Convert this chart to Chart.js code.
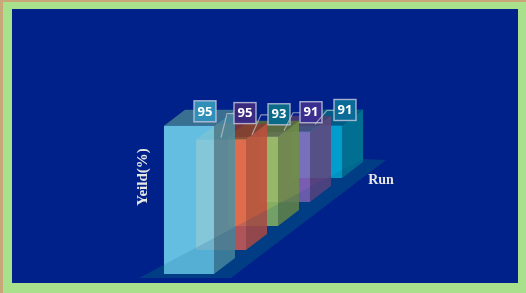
<!DOCTYPE html>
<html>
<head>
<meta charset="utf-8">
<style>
  html, body { margin: 0; padding: 0; background: #a8e08c; overflow: hidden; }
  canvas { display: block; }
</style>
<script src="https://cdn.jsdelivr.net/npm/chart.js@4"></script>
</head>
<body>
<canvas id="yieldChart" width="526" height="293"></canvas>
<script>
// Values
const runs = ["1", "2", "3", "4", "5"];
const yields = [95, 95, 93, 91, 91];

// Bar colours, front to back
const barColors = ["#76daf1", "#f0604a", "#9cc85c", "#8e68b8", "#00b4d8"];
const sideShade = [0.66, 0.8, 0.72, 0.68, 0.68];
const labelFills = ["#2f8fb8", "#3a2a80", "#0a6a88", "#3a2f90", "#0a6a98"];

// Fake 3D set-up: how far each run sits back, and how much it shrinks there
const depthX = 21, depthY = 16, stepBack = 24;
const shrink = [1, 0.745, 0.615, 0.495, 0.37];
// value box position relative to the bar's front top, leader start relative to the box
const labelOffset = [[5, -25], [13, -37], [15, -33], [15, -30], [17, -26]];
const leaderFrom = [null, [-13, 35], [-16, 31], [-16, 29], [-19, 25]];

function shade(hex, f, alpha) {
  const n = parseInt(hex.slice(1), 16);
  const c = [n >> 16, (n >> 8) & 255, n & 255].map(v => Math.round(v * f));
  return "rgba(" + c.join(",") + "," + alpha + ")";
}

function poly(ctx, pts, fill) {
  ctx.beginPath();
  pts.forEach((p, i) => i ? ctx.lineTo(p[0], p[1]) : ctx.moveTo(p[0], p[1]));
  ctx.closePath();
  ctx.fillStyle = fill;
  ctx.fill();
}

function floorPts(chart) {
  const a = chart.scales.x.left, base = chart.scales.y.bottom;
  return [[a - 34, base + 4], [a + 58, base + 4], [a + 213, base - 114], [a + 190, base - 115]];
}

const scene3d = {
  id: "scene3d",
  beforeDraw(chart) {
    const ctx = chart.ctx;
    ctx.save();
    ctx.fillStyle = "#a8e08c";
    ctx.fillRect(0, 0, 526, 293);
    ctx.fillStyle = "#c8a878";
    ctx.fillRect(0, 0, 526, 2);
    ctx.fillRect(0, 0, 3, 293);
    ctx.fillStyle = "#00208a";
    ctx.fillRect(12, 9, 506, 274);
    poly(ctx, floorPts(chart), "#003f86");
    ctx.restore();
  },
  afterDatasetsDraw(chart) {
    const ctx = chart.ctx;
    const bars = chart.getDatasetMeta(0).data;
    ctx.save();
    // back to front so the nearer bars sit over the far ones
    for (let i = bars.length - 1; i >= 0; i--) {
      const b = bars[i];
      const bottom = b.base - stepBack * i;
      const top = bottom - (b.base - b.y) * shrink[i];
      const left = b.x - b.width / 2, right = b.x + b.width / 2;
      const col = barColors[i];
      poly(ctx, [[left, top], [right, top], [right + depthX, top - depthY], [left + depthX, top - depthY]], shade(col, 0.6, 0.8));
      poly(ctx, [[right, top], [right + depthX, top - depthY], [right + depthX, bottom - depthY], [right, bottom]], shade(col, sideShade[i], 0.88));
      poly(ctx, [[left, top], [right, top], [right, bottom], [left, bottom]], shade(col, 1, 0.85));
    }
    // floor shows faintly through the bars
    poly(ctx, floorPts(chart), "rgba(0,50,130,0.14)");

    // value boxes and leader lines
    ctx.textAlign = "center";
    ctx.textBaseline = "middle";
    bars.forEach((b, i) => {
      const bottom = b.base - stepBack * i;
      const top = bottom - (b.base - b.y) * shrink[i];
      const bx = b.x + labelOffset[i][0];
      const by = top + labelOffset[i][1];
      if (leaderFrom[i]) {
        ctx.strokeStyle = "rgba(200,200,205,0.7)";
        ctx.lineWidth = 1.2;
        ctx.beginPath();
        ctx.moveTo(bx + leaderFrom[i][0], by + leaderFrom[i][1]);
        ctx.lineTo(bx - 7, by + 11);
        ctx.lineTo(bx, by + 11);
        ctx.stroke();
      }
      ctx.fillStyle = labelFills[i];
      ctx.fillRect(bx, by, 22, 21);
      ctx.strokeStyle = "rgba(205,205,225,0.8)";
      ctx.lineWidth = 1.4;
      ctx.strokeRect(bx, by, 22, 21);
      ctx.fillStyle = "#ffffff";
      ctx.font = "bold 13px 'Open Sans', sans-serif";
      ctx.fillText(String(yields[i]), bx + 11, by + 11);
    });

    // axis titles
    ctx.fillStyle = "#e6e6e6";
    ctx.font = "bold 14px 'Liberation Serif', serif";
    ctx.fillText("Run", 381, 180);
    ctx.translate(143, 177);
    ctx.rotate(-Math.PI / 2);
    ctx.font = "bold 15px 'Liberation Serif', serif";
    ctx.fillText("Yeild(%)", 0, 0);
    ctx.restore();
  }
};

new Chart(document.getElementById("yieldChart"), {
  type: "bar",
  data: {
    labels: runs,
    datasets: [{
      data: yields,
      backgroundColor: "rgba(0,0,0,0)",
      barThickness: 50
    }]
  },
  options: {
    responsive: false,
    animation: false,
    layout: { padding: { left: 173, right: 193, top: 118, bottom: 19 } },
    scales: {
      x: { display: false },
      y: { display: false, min: 0, max: 100 }
    },
    plugins: { legend: { display: false }, tooltip: { enabled: false } }
  },
  plugins: [scene3d]
});
</script>
</body>
</html>
